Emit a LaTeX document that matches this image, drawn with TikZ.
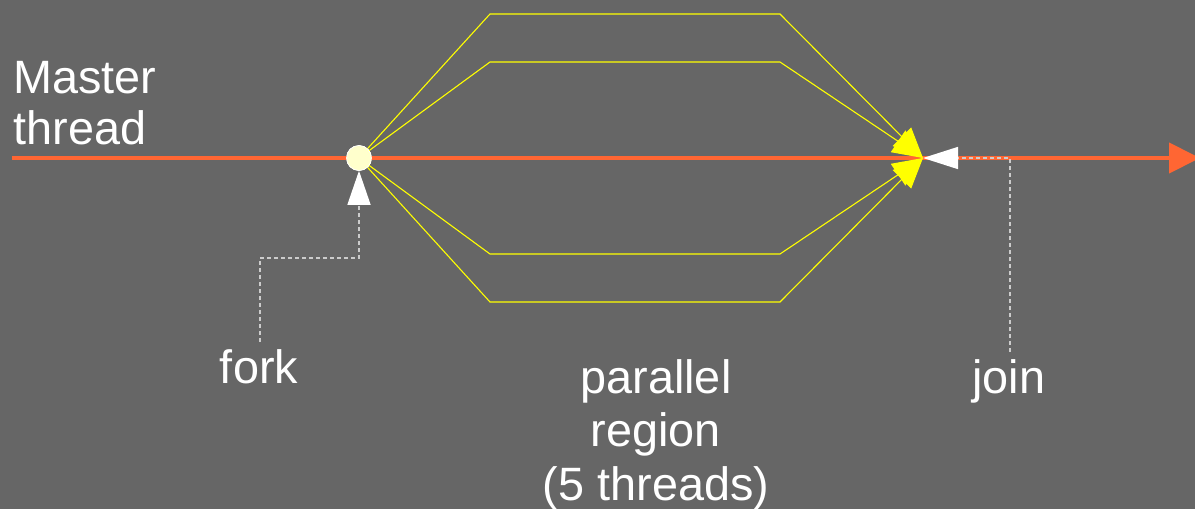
\documentclass[tikz,border=0pt]{standalone}
\usepackage{fontspec}
\setmainfont{Liberation Sans}
\usetikzlibrary{arrows.meta}
\definecolor{bg}{HTML}{666666}
\definecolor{masterc}{HTML}{FF6633}
\definecolor{threadc}{HTML}{FFFF00}
\definecolor{dotc}{HTML}{FFFFCC}
\definecolor{guidec}{HTML}{CCCCCC}
\begin{document}
\begin{tikzpicture}[x=0.5pt,y=-0.5pt,
  txt/.style={text=white, inner sep=0pt, font=\fontsize{23.4}{25.5}\selectfont},
  masterline/.style={draw=masterc, line width=2pt, -{Triangle[length=15.5pt,width=15pt]}},
  thr/.style={draw=threadc, line width=0.55pt, line join=miter, -{Triangle[length=15pt,width=13pt]}},
  guide/.style={draw=guidec, line width=0.7pt, dash pattern=on 2pt off 1.5pt, line join=miter},
  forkdot/.style={circle, fill=dotc, draw=white, line width=0.3pt, minimum size=12.5pt, inner sep=0pt}]
% canvas
\fill[bg] (0,0) rectangle (1195,509);
\useasboundingbox (0,0) rectangle (1195,509);
% key points on the master thread
\coordinate (start) at (12,158);
\coordinate (join) at (923,158);
\coordinate (stop) at (1200,158);
\node[forkdot] (fork) at (359,158) {};
% master thread
\draw[masterline] (start) -- (stop);
% team of threads in the parallel region
\draw[thr] (fork.center) -- (490,14)  -- (780,14)  -- (join);
\draw[thr] (fork.center) -- (490,62)  -- (780,62)  -- (join);
\draw[thr] (fork.center) -- (490,254) -- (780,254) -- (join);
\draw[thr] (fork.center) -- (490,302) -- (780,302) -- (join);
\node[forkdot] at (fork.center) {};
% labels (base anchor of a multi-line node sits on its last line)
\node[txt, align=left, anchor=base west] (mastertxt) at (13,144) {Master\\thread};
\node[txt, anchor=base] (forktxt) at (259,383) {fork};
\node[txt, anchor=base] (jointxt) at (1009,393) {join};
\node[txt, align=center, anchor=base, font=\fontsize{23.4}{26.75}\selectfont] (regiontxt) at (656,500) {parallel\\region\\(5 threads)};
% pointers from the labels
\coordinate (forkend) at (260,342);
\coordinate (joinend) at (1010,352);
\draw[guide, -{Triangle[length=17pt,width=11.5pt,color=white]}] (forkend) |- (359,258) -- (fork.south);
\draw[guide, -{Triangle[length=17.5pt,width=11pt,color=white]}] (joinend) |- (join);
\end{tikzpicture}
\end{document}
